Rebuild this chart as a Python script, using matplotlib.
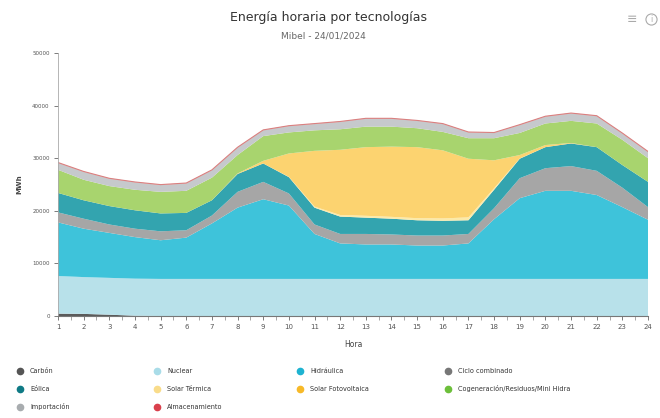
import numpy as np
import matplotlib
matplotlib.use('Agg')
import matplotlib.pyplot as plt
from matplotlib.lines import Line2D

#--- data (MWh per hour) -------------------------------------------------------
horas = list(range(1, 25))

carbon   = [450, 400, 250, 50, 0, 0, 0, 0, 0, 0, 0, 0,
            0, 0, 0, 0, 0, 0, 0, 0, 0, 0, 0, 0]
nuclear  = [7150, 7000, 7000, 7050, 7050, 7050, 7050, 7050, 7050, 7050, 7050, 7050,
            7050, 7050, 7050, 7050, 7050, 7050, 7050, 7050, 7050, 7050, 7050, 7050]
hidraul  = [10200, 9200, 8550, 7900, 7350, 7850, 10550, 13550, 15150, 13950, 8550, 6750,
            6550, 6550, 6350, 6350, 6750, 11350, 15350, 16750, 16750, 15950, 13650, 11250]
ciclo    = [1900, 1900, 1600, 1600, 1700, 1400, 1500, 3000, 3300, 2300, 1800, 1800,
            2000, 1900, 1900, 1900, 1800, 2100, 3800, 4300, 4700, 4600, 3700, 2400]
eolica   = [3700, 3500, 3500, 3500, 3400, 3300, 2900, 3400, 3500, 3100, 3200, 3300,
            3100, 3000, 2900, 2800, 2600, 3500, 3700, 4000, 4300, 4500, 4300, 4800]
solar_t  = [0, 0, 0, 0, 0, 0, 0, 0, 0, 50, 200, 300,
            350, 350, 400, 450, 550, 300, 50, 0, 0, 0, 0, 0]
solar_fv = [0, 0, 0, 0, 0, 0, 0, 100, 500, 4450, 10600, 12400,
            13050, 13350, 13500, 12950, 11150, 5300, 650, 400, 100, 0, 0, 0]
cogen    = [4400, 3900, 3800, 3900, 4100, 4200, 4300, 3500, 4700, 4000, 3900, 3900,
            3900, 3800, 3600, 3500, 3900, 4200, 4200, 4100, 4200, 4500, 4800, 4500]
import_  = [1300, 1500, 1400, 1400, 1300, 1400, 1400, 1400, 1100, 1200, 1200, 1400,
            1500, 1500, 1400, 1500, 1100, 1000, 1500, 1300, 1400, 1400, 1200, 1200]
almacen  = [80] * 24

labels = ['Carbón', 'Nuclear', 'Hidráulica', 'Ciclo combinado', 'Eólica',
          'Solar Térmica', 'Solar Fotovoltaica', 'Cogeneración/Residuos/Mini Hidra',
          'Importación', 'Almacenamiento']
fills   = ['#5a5a5a', '#b8e1ea', '#3ec3da', '#a6a6a6', '#33a4af',
           '#fbeaa9', '#fcd370', '#a8d46e', '#c6c9cc', '#e09a9a']
markers = ['#555555', '#a9dce8', '#1eb3d1', '#777777', '#0f7a85',
           '#f9dc8a', '#f7b928', '#6cbf3a', '#a8acaf', '#d9404c']

#--- figure --------------------------------------------------------------------
fig = plt.figure(figsize=(6.6, 4.18), dpi=100)
ax = fig.add_axes([58/660, 1-316/418, 590/660, 263/418])

series = [carbon, nuclear, hidraul, ciclo, eolica, solar_t, solar_fv,
          cogen, import_, almacen]
ax.stackplot(horas, *series, colors=fills, linewidth=0)
total = np.sum(np.array(series), axis=0)
ax.plot(horas, total, color='#d98080', lw=0.8)

ax.set_xlim(1, 24)
ax.set_ylim(0, 50000)
ax.set_xticks(horas)
ax.set_xticks(np.arange(1.5, 24, 1), minor=True)
ax.set_yticks(range(0, 50001, 10000))
ax.tick_params(axis='x', labelsize=5, colors='#666666', length=3, width=0.6, pad=3)
ax.tick_params(axis='x', which='minor', length=3, width=0.6, colors='#999999')
ax.tick_params(axis='y', labelsize=4, colors='#666666', length=3, width=0.6, pad=3)
for lab in ax.get_xticklabels() + ax.get_yticklabels():
    lab.set_color('#555555')
for s in ['top', 'right']:
    ax.spines[s].set_visible(False)
ax.spines['left'].set_color('#aaaaaa')
ax.spines['left'].set_linewidth(0.6)
ax.spines['bottom'].set_color('#777777')
ax.spines['bottom'].set_linewidth(0.8)
ax.set_xlabel('Hora', fontsize=5.5, color='#444444', labelpad=7)
ax.set_ylabel('MWh', fontsize=5, color='#444444', labelpad=7, fontweight='bold')

fig.text(328/660, 1-18/418, 'Energía horaria por tecnologías', ha='center',
         va='center', fontsize=9, color='#333333')
fig.text(323/660, 1-36/418, 'Mibel - 24/01/2024', ha='center', va='center',
         fontsize=6.5, color='#666666')
fig.text(632/660, 1-19/418, '≡', ha='center', va='center', fontsize=9, color='#aaaaaa')
fig.add_artist(Line2D([651/660], [1-19/418], marker='o', ms=8, mfc='none',
                      mec='#aaaaaa', mew=0.8, transform=fig.transFigure))
fig.text(651/660, 1-19/418, 'i', ha='center', va='center', fontsize=5.5, color='#aaaaaa')

#--- legend (row-wise, 4 columns) ----------------------------------------------
colx = [20, 157, 300, 448]
rowy = [371, 389, 407]
for i, (lab, col) in enumerate(zip(labels, markers)):
    r, c = divmod(i, 4)
    x, y = colx[c] / 660, 1 - rowy[r] / 418
    fig.add_artist(Line2D([x], [y], marker='o', ms=4.5, color=col, lw=0,
                          transform=fig.transFigure))
    fig.text(x + 10/660, y, lab, ha='left', va='center', fontsize=4.7, color='#333333')

plt.savefig('out.png', dpi=100)
